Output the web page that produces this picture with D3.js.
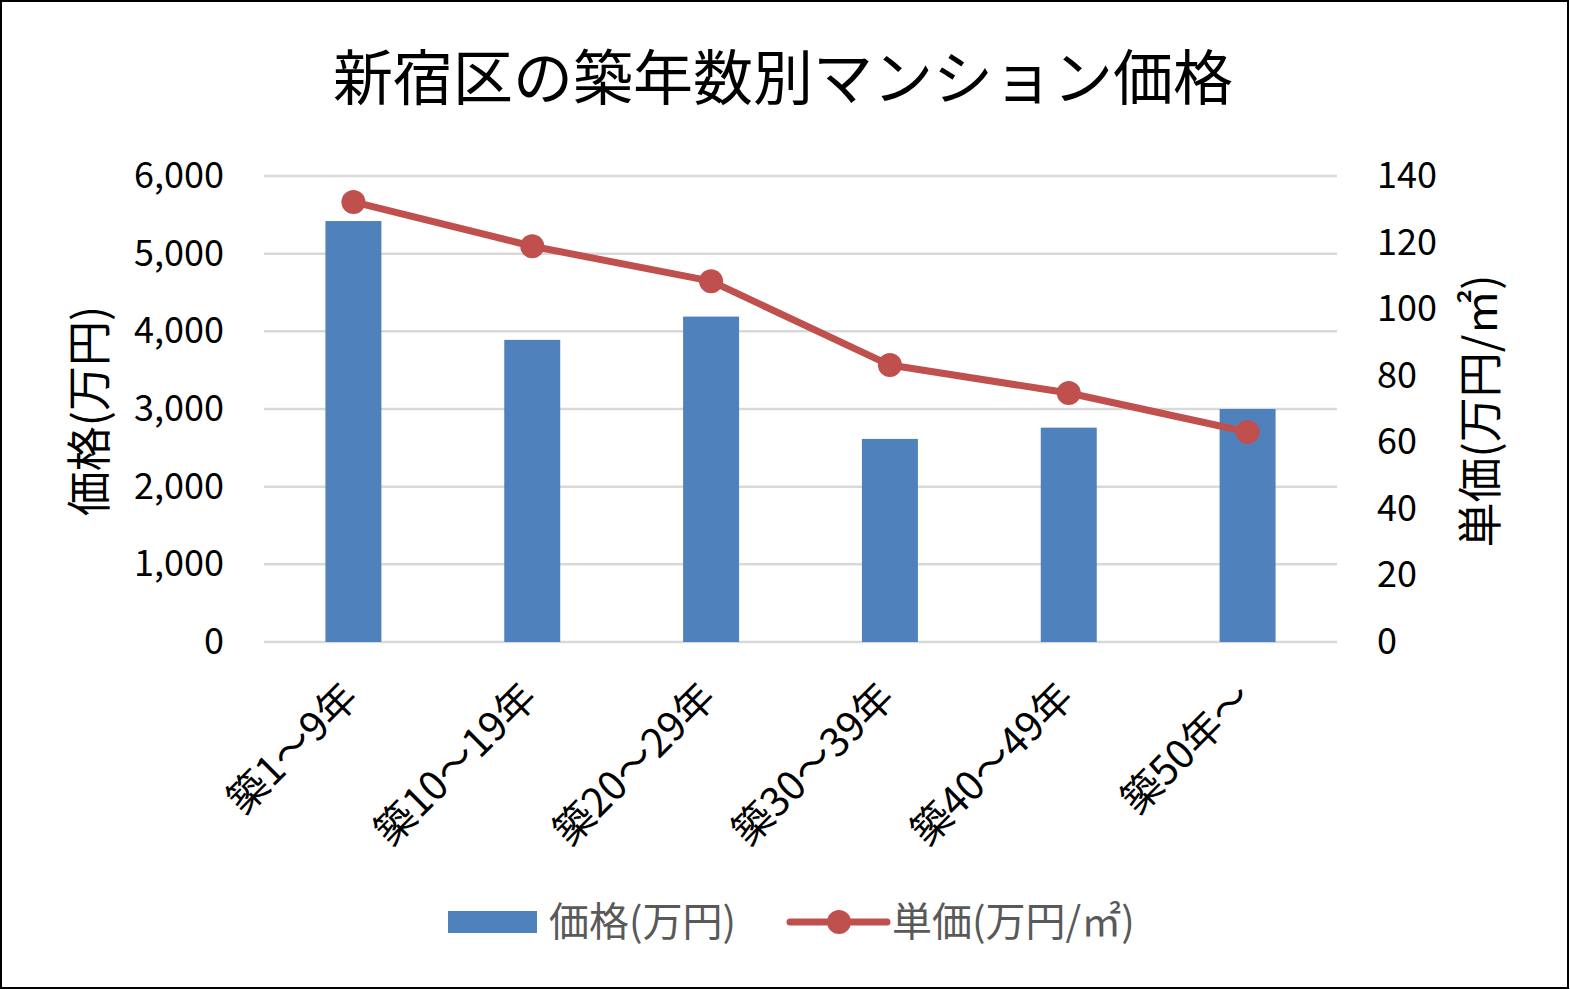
<!DOCTYPE html>
<html>
<head>
<meta charset="utf-8">
<script src="https://cdn.jsdelivr.net/npm/d3@7"></script>
<style>
  html, body { margin: 0; padding: 0; background: #fff; }
  svg text { font-family: "Noto Sans CJK JP", "Noto Sans", sans-serif; }
</style>
</head>
<body>
<div id="chart"></div>
<script>
var width = 1570;
var height = 990;

// data
var categories = ["築1～9年", "築10～19年", "築20～29年", "築30～39年", "築40～49年", "築50年～"];
var prices = [5420, 3890, 4190, 2615, 2760, 3000];        // 価格(万円)
var unitPrices = [132.2, 118.9, 108.4, 83.2, 74.8, 63.1]; // 単価(万円/㎡)
var leftTicks = [0, 1000, 2000, 3000, 4000, 5000, 6000];
var rightTicks = [0, 20, 40, 60, 80, 100, 120, 140];

var title = "新宿区の築年数別マンション価格";
var leftTitle = "価格(万円)";
var rightTitle = "単価(万円/㎡)";

var plot = { left: 264, right: 1337, top: 176, bottom: 642 };

var svg = d3.select("#chart").append("svg")
    .attr("width", width)
    .attr("height", height);

// outer frame
svg.append("rect")
    .attr("x", 1).attr("y", 1)
    .attr("width", width - 3).attr("height", height - 3)
    .attr("fill", "#fff")
    .attr("stroke", "#000")
    .attr("stroke-width", 2);

var x = d3.scaleBand()
    .domain(categories)
    .range([plot.left, plot.right])
    .paddingInner(0.687)
    .paddingOuter(0.3435);

var yL = d3.scaleLinear().domain([0, 6000]).range([plot.bottom, plot.top]);
var yR = d3.scaleLinear().domain([0, 140]).range([plot.bottom, plot.top]);

// gridlines
svg.append("g")
    .selectAll("line")
    .data(leftTicks)
    .enter().append("line")
        .attr("x1", plot.left)
        .attr("x2", plot.right)
        .attr("y1", d => yL(d))
        .attr("y2", d => yL(d))
        .attr("stroke", "#d9d9d9")
        .attr("stroke-width", 2.5);

// left axis
var axL = svg.append("g")
    .attr("transform", "translate(" + plot.left + ",0)")
    .call(d3.axisLeft(yL).tickValues(leftTicks).tickFormat(d3.format(",")).tickSize(0).tickPadding(40));
axL.select(".domain").remove();
axL.selectAll("text")
    .attr("font-size", 36)
    .attr("fill", "#000")
    .attr("font-family", "\"Noto Sans CJK JP\", sans-serif");

// right axis
var axR = svg.append("g")
    .attr("transform", "translate(" + plot.right + ",0)")
    .call(d3.axisRight(yR).tickValues(rightTicks).tickSize(0).tickPadding(40));
axR.select(".domain").remove();
axR.selectAll("text")
    .attr("font-size", 36)
    .attr("fill", "#000")
    .attr("font-family", "\"Noto Sans CJK JP\", sans-serif");

// bars
svg.append("g")
    .selectAll("rect")
    .data(prices)
    .enter().append("rect")
        .attr("x", (d, i) => x(categories[i]))
        .attr("y", d => yL(d))
        .attr("width", x.bandwidth())
        .attr("height", d => yL(0) - yL(d))
        .attr("fill", "#4f81bd");

// line + markers
var cx = (d, i) => x(categories[i]) + x.bandwidth() / 2;
var line = d3.line()
    .x(cx)
    .y(d => yR(d));

svg.append("path")
    .datum(unitPrices)
    .attr("d", line)
    .attr("fill", "none")
    .attr("stroke", "#c0504d")
    .attr("stroke-width", 7)
    .attr("stroke-linejoin", "round");

svg.append("g")
    .selectAll("circle")
    .data(unitPrices)
    .enter().append("circle")
        .attr("cx", cx)
        .attr("cy", d => yR(d))
        .attr("r", 12)
        .attr("fill", "#c0504d");

// category labels, rotated
svg.append("g")
    .selectAll("text")
    .data(categories)
    .enter().append("text")
        .attr("transform", d => "translate(" + (x(d) + x.bandwidth() / 2 + 7) + "," + 700 + ") rotate(-45)")
        .attr("text-anchor", "end")
        .attr("font-size", 40)
        .attr("fill", "#000")
        .text(d => d);

// title
svg.append("text")
    .attr("x", 783)
    .attr("y", 100)
    .attr("text-anchor", "middle")
    .attr("font-size", 60)
    .attr("fill", "#000")
    .text(title);

// axis titles
svg.append("text")
    .attr("transform", "translate(106,411) rotate(-90)")
    .attr("text-anchor", "middle")
    .attr("font-size", 45)
    .attr("fill", "#000")
    .text(leftTitle);

svg.append("text")
    .attr("transform", "translate(1497,411) rotate(-90)")
    .attr("text-anchor", "middle")
    .attr("font-size", 45)
    .attr("fill", "#000")
    .text(rightTitle);

// legend
var legend = svg.append("g");
legend.append("rect")
    .attr("x", 448).attr("y", 911)
    .attr("width", 89).attr("height", 22)
    .attr("fill", "#4f81bd");
legend.append("text")
    .attr("x", 549).attr("y", 936)
    .attr("font-size", 40)
    .attr("fill", "#595959")
    .text(leftTitle);

legend.append("line")
    .attr("x1", 790).attr("x2", 887)
    .attr("y1", 922).attr("y2", 922)
    .attr("stroke", "#c0504d")
    .attr("stroke-width", 7)
    .attr("stroke-linecap", "round");
legend.append("circle")
    .attr("cx", 839).attr("cy", 922)
    .attr("r", 12)
    .attr("fill", "#c0504d");
legend.append("text")
    .attr("x", 892).attr("y", 936)
    .attr("font-size", 40)
    .attr("fill", "#595959")
    .text(rightTitle);
</script>
</body>
</html>
